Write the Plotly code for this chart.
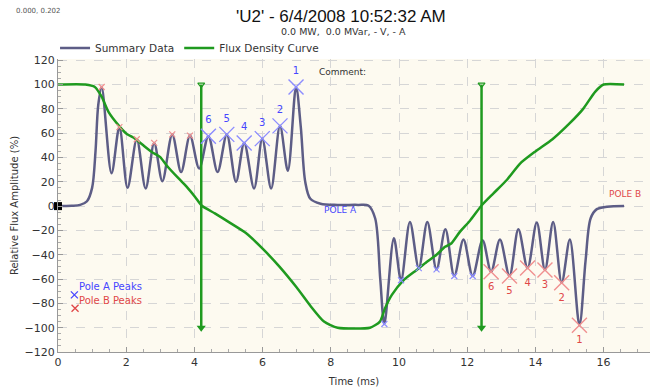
import plotly.graph_objects as go

# ---------------- data ----------------
# Summary data (key points: plateaus, peaks and troughs), ms / %
sum_x = [0.0, 0.4, 0.65, 0.85, 1.0, 1.1, 1.18, 1.28, 1.57, 1.80, 2.04, 2.31, 2.57, 2.82, 3.06, 3.35,
         3.61, 3.87, 4.14, 4.41, 4.68, 4.95, 5.22, 5.46, 5.75, 5.99, 6.25, 6.51, 6.74, 6.98,
         7.12, 7.25, 7.4, 7.7, 8.2, 8.8, 9.1, 9.3, 9.45, 9.57, 9.85, 10.06, 10.32, 10.58, 10.83,
         11.10, 11.36, 11.62, 11.89, 12.16, 12.45, 12.70, 12.96, 13.24, 13.50, 13.77, 14.04,
         14.28, 14.52, 14.77, 15.01, 15.29, 15.47, 15.62, 15.8, 16.1, 16.6]
sum_y = [0.0, 0.3, 1.0, 4.0, 15, 45, 83, 98, 27, 65, 15, 55, 14.5, 52, 20.5, 59,
         28, 58, 31, 57.5, 28, 59, 20, 52, 14.5, 55.5, 14.5, 66, 29, 98,
         65, 20, 6, 2.0, 1.0, 1.0, 0.5, -10, -60, -97, -26.5, -61, -13, -51, -13,
         -52, -19, -57.5, -27.5, -57.5, -28, -54, -27.5, -57.5, -19, -51, -13.5,
         -52.5, -13, -63, -27.5, -98, -45, -10, -2.5, -0.5, 0.0]

# Flux density curve
flux_x = [0.0, 0.8, 1.08, 1.28, 1.48, 1.82, 2.01, 2.26, 2.5, 2.75, 2.99, 3.23, 3.53, 3.77, 4.02, 4.21,
          4.6, 5.0, 5.5, 6.0, 6.5, 7.0, 7.4, 7.8, 8.2, 9.15, 9.44, 9.59, 9.79, 10.13, 10.52,
          10.81, 11.1, 11.35, 11.54, 11.79, 12.08, 12.42, 12.77, 13.16, 13.55, 14.0, 14.5,
          15.0, 15.4, 15.75, 16.0, 16.6]
flux_y = [100, 100, 98, 90, 77.5, 65, 59.5, 55.5, 50, 44.5, 40.5, 32, 23, 16, 7.5, 0.5,
          -6, -13, -22, -35, -50, -67, -82, -95, -100, -100, -95, -84, -73, -61, -52.5,
          -46, -40, -33.5, -30.5, -21, -12, 0.5, 10.5, 21.5, 35, 45, 55,
          68, 80, 94, 100, 100]

# Pole A labelled peaks (blue) and Pole B labelled troughs (red)
poleA_x = [4.41, 4.95, 5.46, 5.99, 6.51, 6.98]
poleA_y = [57.5, 59, 52, 55.5, 66, 98]
poleA_lbl = ["6", "5", "4", "3", "2", "1"]
poleB_x = [12.70, 13.24, 13.77, 14.28, 14.77, 15.29]
poleB_y = [-54, -57.5, -51, -52.5, -63, -98]
poleB_lbl = ["6", "5", "4", "3", "2", "1"]

# small peak marks (previous pole)
smallB_x = [1.28, 1.80, 2.31, 2.82, 3.35, 3.87]
smallB_y = [98, 65, 55, 52, 59, 58]
smallA_x = [9.57, 10.06, 10.58, 11.10, 11.62, 12.16]
smallA_y = [-97, -61, -51, -52, -57.5, -57.5]

# cursors
cursor_x = [4.2, 12.42]
cursor_top = 100
cursor_bot = -100

# legend key marks for Pole A/B peaks
key_x = [0.48, 0.5]
key_y = [-73, -84]

x_ticks = [0, 2, 4, 6, 8, 10, 12, 14, 16]
y_ticks = [-120, -100, -80, -60, -40, -20, 0, 20, 40, 60, 80, 100, 120]

# ---------------- styles ----------------
SUM_C = "#5d5d86"
FLUX_C = "#1f9a1f"
BLUE = "#4646ff"
BLUE_L = "#8c8cff"
RED = "#e04848"
RED_L = "#f09090"
FONT = "DejaVu Sans"

W, H = 657, 392
ML, MR, MT, MB = 58, 7, 59, 40
PH = H - MT - MB
PW = W - ML - MR


def py(pix):  # pixel row -> paper y
    return 1 + (MT - pix) / PH


def px(pix):  # pixel column -> paper x
    return (pix - ML) / PW


fig = go.Figure()

fig.add_trace(go.Scatter(x=sum_x, y=sum_y, mode="lines", name="Summary Data",
                         line=dict(color=SUM_C, width=2.5, shape="spline", smoothing=0.9)))
fig.add_trace(go.Scatter(x=flux_x, y=flux_y, mode="lines", name="Flux Density Curve",
                         line=dict(color=FLUX_C, width=2.5, shape="spline", smoothing=0.6)))

for cx in cursor_x:
    fig.add_trace(go.Scatter(x=[cx, cx], y=[cursor_top, cursor_bot], mode="lines",
                             line=dict(color=FLUX_C, width=2.5), showlegend=False, hoverinfo="skip"))
    fig.add_trace(go.Scatter(x=[cx], y=[cursor_top], mode="markers", showlegend=False,
                             marker=dict(symbol="triangle-down-open", size=6,
                                         color=FLUX_C, line=dict(width=1.2, color=FLUX_C))))
    fig.add_trace(go.Scatter(x=[cx], y=[cursor_bot], mode="markers", showlegend=False,
                             marker=dict(symbol="triangle-down", size=8, color=FLUX_C)))

fig.add_trace(go.Scatter(x=smallB_x, y=smallB_y, mode="markers", showlegend=False,
                         marker=dict(symbol="x-thin", size=6, line=dict(width=1.2, color=RED_L))))
fig.add_trace(go.Scatter(x=smallA_x, y=smallA_y, mode="markers", showlegend=False,
                         marker=dict(symbol="x-thin", size=6, line=dict(width=1.2, color=BLUE_L))))

fig.add_trace(go.Scatter(x=poleA_x, y=poleA_y, mode="markers+text", text=poleA_lbl,
                         textposition="top center", showlegend=False,
                         textfont=dict(family=FONT, size=10, color=BLUE),
                         marker=dict(symbol="x-thin", size=15, line=dict(width=1.4, color=BLUE_L))))
fig.add_trace(go.Scatter(x=poleB_x, y=poleB_y, mode="markers+text", text=poleB_lbl,
                         textposition="bottom center", showlegend=False,
                         textfont=dict(family=FONT, size=10, color=RED),
                         marker=dict(symbol="x-thin", size=15, line=dict(width=1.4, color=RED_L))))

fig.add_trace(go.Scatter(x=key_x[:1], y=key_y[:1], mode="markers", showlegend=False,
                         marker=dict(symbol="x-thin", size=7, line=dict(width=1.3, color=BLUE))))
fig.add_trace(go.Scatter(x=key_x[1:], y=key_y[1:], mode="markers", showlegend=False,
                         marker=dict(symbol="x-thin", size=7, line=dict(width=1.3, color=RED))))

fig.add_trace(go.Scatter(x=[0], y=[0], mode="markers", showlegend=False, cliponaxis=False,
                         marker=dict(symbol="square", size=8, color="black")))

ann = [
    dict(x=0.55, y=-66, xref="x", yref="y", text="Pole A Peaks", showarrow=False,
         xanchor="left", font=dict(family=FONT, size=10, color=BLUE)),
    dict(x=0.55, y=-78, xref="x", yref="y", text="Pole B Peaks", showarrow=False,
         xanchor="left", font=dict(family=FONT, size=10, color=RED)),
    dict(x=7.6, y=110, xref="x", yref="y", text="Comment:", showarrow=False,
         xanchor="left", font=dict(family=FONT, size=9, color="#333")),
    dict(x=7.75, y=-3, xref="x", yref="y", text="POLE A", showarrow=False,
         xanchor="left", font=dict(family=FONT, size=9, color=BLUE)),
    dict(x=16.1, y=10, xref="x", yref="y", text="POLE B", showarrow=False,
         xanchor="left", font=dict(family=FONT, size=9, color=RED)),
    dict(x=px(14), y=py(11), xref="paper", yref="paper", text="0.000, 0.202",
         showarrow=False, xanchor="left", yanchor="middle",
         font=dict(family=FONT, size=7, color="#555")),
    dict(x=px(341), y=py(16), xref="paper", yref="paper", text="'U2' - 6/4/2008 10:52:32 AM",
         showarrow=False, xanchor="center", yanchor="middle",
         font=dict(family="Liberation Sans", size=17, color="#111")),
    dict(x=px(343), y=py(32), xref="paper", yref="paper", text="0.0 MW,  0.0 MVar, - V, - A",
         showarrow=False, xanchor="center", yanchor="middle",
         font=dict(family=FONT, size=9.5, color="#333")),
]

fig.update_layout(
    width=W, height=H,
    margin=dict(l=ML, r=MR, t=MT, b=MB),
    paper_bgcolor="white",
    plot_bgcolor="#fdfaf0",
    annotations=ann,
    legend=dict(orientation="h", x=-0.005, xanchor="left", y=py(48), yanchor="middle",
                font=dict(family=FONT, size=10.5, color="#333"), bgcolor="rgba(0,0,0,0)",
                itemwidth=30, tracegroupgap=0),
    showlegend=True,
)

fig.update_xaxes(range=[0, 17.36], tickvals=x_ticks, showgrid=True, gridcolor="#d6d6d6",
                 griddash="dash", gridwidth=1, zeroline=False, showline=True, linecolor="#999",
                 ticks="inside", ticklen=5, tickcolor="#999",
                 minor=dict(dtick=0.5, ticks="inside", ticklen=3, tickcolor="#aaa", showgrid=False),
                 tickfont=dict(family=FONT, size=11, color="#333"),
                 title=dict(text="Time (ms)", font=dict(family=FONT, size=10, color="#333"), standoff=9),
                 mirror=False)
fig.update_yaxes(range=[-120, 121], tickvals=y_ticks, showgrid=True, gridcolor="#d6d6d6",
                 griddash="dash", gridwidth=1, zeroline=False, showline=True, linecolor="#999",
                 ticks="inside", ticklen=5, tickcolor="#999",
                 minor=dict(dtick=5, ticks="inside", ticklen=3, tickcolor="#aaa", showgrid=False),
                 tickfont=dict(family=FONT, size=11, color="#333"),
                 title=dict(text="Relative Flux Amplitude (%)", font=dict(family=FONT, size=10, color="#333"),
                            standoff=4))

fig.write_html("out.html")
